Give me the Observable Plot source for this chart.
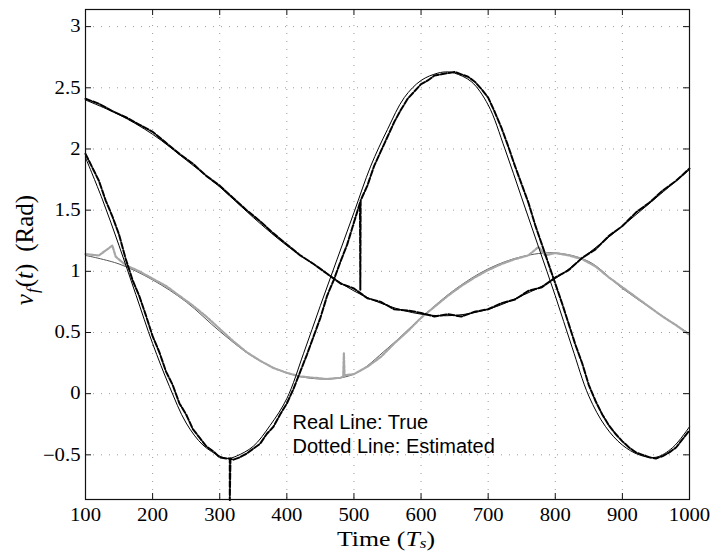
<!DOCTYPE html>
<html>
<head>
<meta charset="utf-8">
<script src="https://cdn.jsdelivr.net/npm/d3@7"></script>
<script src="https://cdn.jsdelivr.net/npm/@observablehq/plot@0.6"></script>
<style>
  html, body { margin: 0; padding: 0; background: #fff; }
  #chart svg { display: block; }
</style>
</head>
<body>
<div id="chart"></div>
<script>
// ---------- axes ----------
const xTicks = [100, 200, 300, 400, 500, 600, 700, 800, 900, 1000];
const yTicks = [-0.5, 0, 0.5, 1, 1.5, 2, 2.5, 3];
const xDomain = [100, 1000];
const yDomain = [-0.865, 3.14];

// ---------- true signals (solid) ----------
const tTrueA = [100,125,150,175,200,225,250,275,300,312,325,350,375,400,425,450,475,500,525,550,575,600,625,640,650,675,700,725,750,775,800,825,850,875,900,925,950,975,1000];
const vTrueA = [1.93,1.59,1.21,0.81,0.41,0.06,-0.24,-0.42,-0.51,-0.53,-0.51,-0.43,-0.26,-0.04,0.33,0.72,1.10,1.48,1.86,2.16,2.42,2.56,2.62,2.63,2.62,2.55,2.36,2.00,1.60,1.20,0.80,0.38,-0.02,-0.27,-0.42,-0.50,-0.52,-0.44,-0.27];

const tTrueB = [100,150,200,250,300,350,400,450,500,550,600,650,700,750,800,850,900,950,1000];
const vTrueB = [2.40,2.28,2.12,1.91,1.69,1.44,1.21,1.02,0.84,0.72,0.65,0.64,0.69,0.80,0.94,1.15,1.37,1.60,1.83];

const tTrueC = [100,150,200,250,300,350,400,450,500,550,600,650,700,750,800,850,900,950,1000];
const vTrueC = [1.13,1.06,0.93,0.75,0.51,0.30,0.17,0.12,0.16,0.37,0.62,0.85,1.02,1.12,1.15,1.08,0.86,0.67,0.49];

// ---------- estimated signals (dotted) ----------
const tEstA = [100,110,120,130,140,150,160,170,180,190,200,210,220,230,240,250,260,270,280,290,300,310,315,315,316,320,330,340,350,360,370,380,390,400,410,420,430,440,450,460,470,480,490,500,509,509.5,510,520,530,540,550,560,570,580,590,600,610,620,630,640,650,660,670,680,690,700,710,720,730,740,750,760,770,780,790,800,810,820,830,840,850,860,870,880,890,900,910,920,930,940,950,960,970,980,990,1000];
const vEstA = [1.96,1.85,1.74,1.58,1.45,1.30,1.10,0.93,0.80,0.64,0.47,0.34,0.18,0.07,-0.08,-0.17,-0.29,-0.36,-0.43,-0.47,-0.52,-0.53,-0.53,-0.87,-0.53,-0.54,-0.52,-0.49,-0.45,-0.41,-0.33,-0.27,-0.17,-0.08,0.04,0.18,0.32,0.47,0.62,0.80,0.93,1.08,1.22,1.40,1.56,0.85,1.58,1.70,1.86,1.98,2.10,2.22,2.32,2.41,2.47,2.53,2.56,2.60,2.61,2.62,2.63,2.61,2.59,2.55,2.49,2.42,2.30,2.17,2.02,1.86,1.71,1.56,1.38,1.22,1.06,0.90,0.74,0.57,0.40,0.25,0.07,-0.06,-0.17,-0.26,-0.33,-0.39,-0.44,-0.48,-0.50,-0.52,-0.53,-0.51,-0.48,-0.44,-0.37,-0.30];

const tEstB = [100,120,140,160,180,200,220,240,260,280,300,320,340,360,380,400,420,440,460,480,500,520,540,560,580,600,620,640,660,680,700,720,740,760,780,800,820,840,860,880,900,920,940,960,980,1000];
const vEstB = [2.41,2.37,2.31,2.26,2.20,2.14,2.05,1.96,1.88,1.78,1.70,1.60,1.50,1.41,1.31,1.22,1.13,1.06,0.98,0.90,0.86,0.78,0.75,0.69,0.68,0.66,0.63,0.65,0.63,0.67,0.69,0.74,0.77,0.84,0.87,0.95,1.01,1.11,1.18,1.29,1.37,1.48,1.56,1.66,1.74,1.84];

const tEstC = [100,120,130,140,145,160,180,200,220,240,260,280,300,320,340,360,380,400,420,440,460,480,484,485,486,500,520,540,560,580,600,620,640,660,680,700,720,740,760,775,785,800,820,840,860,880,900,920,940,960,980,1000];
const vEstC = [1.14,1.13,1.17,1.21,1.12,1.05,1.00,0.94,0.88,0.80,0.72,0.63,0.53,0.43,0.34,0.27,0.21,0.17,0.14,0.13,0.12,0.13,0.14,0.33,0.15,0.16,0.22,0.30,0.41,0.51,0.62,0.71,0.80,0.88,0.95,1.01,1.06,1.10,1.13,1.20,1.13,1.15,1.13,1.10,1.04,0.95,0.87,0.79,0.71,0.63,0.56,0.48];

const legendLines = ["Real Line: True", "Dotted Line: Estimated"];
const xLabelParts = ["Time (", "T", "s", ")"];
const yLabelParts = ["ν", "f", "(", "t", ")", "(Rad)"];

// ---------- build tables ----------
const rows = (ts, vs) => d3.zip(ts, vs).map(([t, v]) => ({t, v}));
const trueA = rows(tTrueA, vTrueA), trueB = rows(tTrueB, vTrueB), trueC = rows(tTrueC, vTrueC);
const estA = rows(tEstA, vEstA), estB = rows(tEstB, vEstB), estC = rows(tEstC, vEstC);

// ---------- layout ----------
const W = 715, H = 552;
const mL = 85, mR = 26, mT = 9, mB = 53;
const innerW = W - mL - mR, innerH = H - mT - mB;
const tickLen = 6;
const serif = "'Liberation Serif', 'Times New Roman', serif";
const sans = "'Liberation Sans', Arial, sans-serif";
const fmt = d => (d < 0 ? "\u2212" : "") + String(Math.abs(d));

const gridStyle = {stroke: "#9a9a9a", strokeOpacity: 1, strokeDasharray: "1,7", strokeWidth: 1};
const estStyle = {x: "t", y: "v", curve: "linear", strokeWidth: 2, strokeDasharray: "6,2"};

const chart = Plot.plot({
  width: W, height: H,
  marginLeft: mL, marginRight: mR, marginTop: mT, marginBottom: mB,
  style: {fontFamily: serif, fontSize: "18px", background: "#fff", color: "#000"},
  x: {domain: xDomain},
  y: {domain: yDomain},
  marks: [
    Plot.gridX({ticks: xTicks, ...gridStyle}),
    Plot.gridY({ticks: yTicks, ...gridStyle}),
    Plot.line(trueC, {x: "t", y: "v", curve: "catmull-rom", stroke: "#555", strokeWidth: 1}),
    Plot.line(estC, {...estStyle, stroke: "#a6a6a6", strokeWidth: 2.2, strokeDasharray: "3,1.5"}),
    Plot.line(trueB, {x: "t", y: "v", curve: "catmull-rom", stroke: "#000", strokeWidth: 1}),
    Plot.line(estB, {...estStyle, stroke: "#000"}),
    Plot.line(trueA, {x: "t", y: "v", curve: "catmull-rom", stroke: "#000", strokeWidth: 1}),
    Plot.line(estA, {...estStyle, stroke: "#000"}),
    Plot.frame({stroke: "#111", strokeWidth: 1.2}),
    Plot.tickX(xTicks, {x: d => d, insetTop: innerH - tickLen, stroke: "#111"}),
    Plot.tickX(xTicks, {x: d => d, insetBottom: innerH - tickLen, stroke: "#111"}),
    Plot.tickY(yTicks, {y: d => d, insetRight: innerW - tickLen, stroke: "#111"}),
    Plot.tickY(yTicks, {y: d => d, insetLeft: innerW - tickLen, stroke: "#111"}),
    Plot.axisX({ticks: xTicks, tickFormat: fmt, tickSize: 0, tickPadding: 9, label: null, fontSize: 18}),
    Plot.axisY({ticks: yTicks, tickFormat: fmt, tickSize: 0, tickPadding: 5, label: null, fontSize: 18}),
    Plot.text([legendLines.join("\n")], {
      text: d => d, frameAnchor: "top-left", dx: 207, dy: 443,
      lineAnchor: "bottom", lineHeight: 1.17, textAnchor: "start",
      fontFamily: sans, fontSize: 20, fill: "#000"
    })
  ]
});

document.getElementById("chart").appendChild(chart);
const svg = d3.select(chart);

// stretch tick labels horizontally, as in the reference
svg.selectAll('g[aria-label="x-axis tick label"] text, g[aria-label="y-axis tick label"] text').each(function() {
  const len = this.getComputedTextLength();
  this.setAttribute("textLength", (len * 1.15).toFixed(1));
  this.setAttribute("lengthAdjust", "spacingAndGlyphs");
});

// x label: Time (T_s)
const xl = svg.append("text")
  .attr("x", mL + innerW / 2 - 1).attr("y", 546)
  .attr("text-anchor", "middle").attr("font-family", serif).attr("font-size", 21).attr("fill", "#000");
xl.append("tspan").text(xLabelParts[0]);
xl.append("tspan").attr("font-style", "italic").text(xLabelParts[1]);
xl.append("tspan").attr("font-style", "italic").attr("font-size", 14).attr("dy", 2).text(xLabelParts[2]);
xl.append("tspan").attr("dy", -2).text(xLabelParts[3]);
xl.attr("textLength", 98).attr("lengthAdjust", "spacingAndGlyphs");

// y label: ν_f(t) (Rad)
const yl = svg.append("text")
  .attr("transform", "translate(33,250) rotate(-90)")
  .attr("text-anchor", "middle").attr("font-family", serif).attr("font-size", 25).attr("fill", "#000");
yl.append("tspan").attr("font-style", "italic").text(yLabelParts[0]);
yl.append("tspan").attr("font-style", "italic").attr("font-size", 17).attr("dy", 5).attr("dx", 1).text(yLabelParts[1]);
yl.append("tspan").attr("dy", -5).attr("dx", 1).text(yLabelParts[2]);
yl.append("tspan").attr("font-style", "italic").text(yLabelParts[3]);
yl.append("tspan").text(yLabelParts[4]);
yl.append("tspan").attr("dx", 12).text(yLabelParts[5]);
</script>
</body>
</html>
